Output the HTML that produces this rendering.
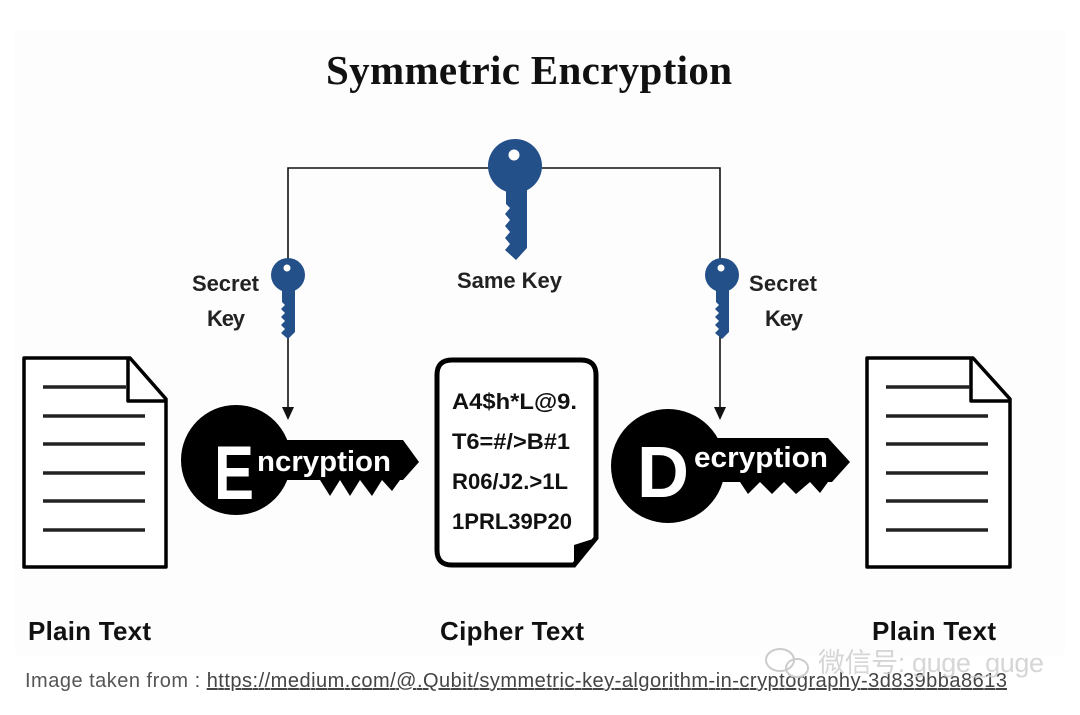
<!DOCTYPE html>
<html><head><meta charset="utf-8"><style>
html,body{margin:0;padding:0;background:#fff;}
body{width:1080px;height:715px;position:relative;overflow:hidden;}
</style></head><body>
<svg width="1080" height="715" viewBox="0 0 1080 715" xmlns="http://www.w3.org/2000/svg" style="position:absolute;left:0;top:0">
<rect x="15" y="30" width="1050" height="625" fill="#fdfdfd"/>
<text x="326" y="84" font-family="Liberation Serif, serif" font-weight="bold" font-size="41" fill="#111" textLength="406">Symmetric  Encryption</text>

<path d="M288 410 V168 H720 V410" fill="none" stroke="#111" stroke-width="1.6"/>
<polygon points="282,407 294,407 288,420" fill="#111"/>
<polygon points="714,407 726,407 720,420" fill="#111"/>

<g fill="#24508a">
<circle cx="515" cy="166" r="27"/>
<path d="M506 185 H527 V248 L516 260 L505 250 L510 244 L505 238 L510 232 L505 226 L510 220 L505 214 L510 208 L506 204 Z"/>
</g>
<circle cx="514" cy="155" r="5.5" fill="#fff"/>
<g fill="#24508a">
<circle cx="288" cy="275" r="17"/>
<path d="M282 287 H295 V332 L288 339 L281 333 L285 329 L281 325 L285 321 L281 317 L285 313 L281 309 L285 305 L282 302 Z"/>
<circle cx="722" cy="275" r="17"/>
<path d="M716 287 H729 V332 L722 339 L715 333 L719 329 L715 325 L719 321 L715 317 L719 313 L715 309 L719 305 L716 302 Z"/>
</g>
<circle cx="287" cy="268" r="3.5" fill="#fff"/>
<circle cx="721" cy="268" r="3.5" fill="#fff"/>

<g font-family="Liberation Sans, sans-serif" font-weight="bold" font-size="22" fill="#222">
<text x="192" y="291" textLength="67">Secret</text>
<text x="207" y="326" textLength="38">Key</text>
<text x="457" y="288" textLength="105">Same Key</text>
<text x="749" y="291" textLength="68">Secret</text>
<text x="765" y="326" textLength="38">Key</text>
</g>

<g fill="#000">
<circle cx="236" cy="460" r="55"/>
<path d="M270 440 H403 L419 462 L403 480 L400 480 L392 491 L382 480 L372 496 L360 480 L350 496 L340 480 L330 496 L320 480 H270 Z"/>
</g>
<text x="214" y="499" font-family="Liberation Sans, sans-serif" font-weight="bold" font-size="76" fill="#fff" textLength="40" lengthAdjust="spacingAndGlyphs">E</text>
<text x="257" y="471" font-family="Liberation Sans, sans-serif" font-weight="bold" font-size="29" fill="#fff" textLength="134" lengthAdjust="spacingAndGlyphs">ncryption</text>

<g fill="#000">
<circle cx="668" cy="466" r="57"/>
<path d="M700 438 H828 L850 462 L832 482 L828 482 L820 493 L810 482 L796 494 L784 482 L772 494 L760 482 L748 494 L740 482 H700 Z"/>
</g>
<text x="637" y="497" font-family="Liberation Sans, sans-serif" font-weight="bold" font-size="72" fill="#fff">D</text>
<text x="694" y="467" font-family="Liberation Sans, sans-serif" font-weight="bold" font-size="29" fill="#fff" textLength="134" lengthAdjust="spacingAndGlyphs">ecryption</text>

<path d="M452 360 H581 Q596 360 596 375 V538 L574 565 H452 Q437 565 437 550 V375 Q437 360 452 360 Z" fill="#fff" stroke="#000" stroke-width="5"/>
<polygon points="574,545 596,538 574,565" fill="#000"/>
<g font-family="Liberation Sans, sans-serif" font-weight="bold" font-size="22" fill="#111">
<text x="452" y="409" textLength="125" lengthAdjust="spacingAndGlyphs">A4$h*L@9.</text>
<text x="452" y="449" textLength="118" lengthAdjust="spacingAndGlyphs">T6=#/&gt;B#1</text>
<text x="452" y="489" textLength="116" lengthAdjust="spacingAndGlyphs">R06/J2.&gt;1L</text>
<text x="452" y="529" textLength="120" lengthAdjust="spacingAndGlyphs">1PRL39P20</text>
</g>

<g fill="#fff" stroke="#000" stroke-width="3.5" stroke-linejoin="round">
<path d="M24 358 H130 L166 399 V567 H24 Z"/>
<path d="M128 358 V401 H166" fill="none"/>
<path d="M867 358 H973 L1010 399 V567 H867 Z"/>
<path d="M971 358 V401 H1010" fill="none"/>
</g>
<g stroke="#222" stroke-width="3.5">
<line x1="43" y1="387" x2="126" y2="387"/>
<line x1="43" y1="416" x2="145" y2="416"/>
<line x1="43" y1="444" x2="145" y2="444"/>
<line x1="43" y1="473" x2="145" y2="473"/>
<line x1="43" y1="501" x2="145" y2="501"/>
<line x1="43" y1="530" x2="145" y2="530"/>
<line x1="886" y1="387" x2="970" y2="387"/>
<line x1="886" y1="416" x2="988" y2="416"/>
<line x1="886" y1="444" x2="988" y2="444"/>
<line x1="886" y1="473" x2="988" y2="473"/>
<line x1="886" y1="501" x2="988" y2="501"/>
<line x1="886" y1="530" x2="988" y2="530"/>
</g>

<g font-family="Liberation Sans, sans-serif" font-weight="bold" font-size="26" fill="#111">
<text x="28" y="640" textLength="123">Plain Text</text>
<text x="440" y="640" textLength="144">Cipher Text</text>
<text x="872" y="640" textLength="124">Plain Text</text>
</g>

<text x="25" y="687" font-family="Liberation Sans, sans-serif" font-size="20" fill="#555" textLength="982">Image taken from : <tspan text-decoration="underline" fill="#444">https://medium.com/@.Qubit/symmetric-key-algorithm-in-cryptography-3d839bba8613</tspan></text>
<text x="818" y="672" font-family="Liberation Sans, 'Noto Sans CJK SC', sans-serif" font-size="27" fill="#ccc" fill-opacity="0.8" textLength="226">微信号: guge_guge</text>
<g fill="none" stroke="#ccc" stroke-width="2"><ellipse cx="780" cy="660" rx="14" ry="11"/><ellipse cx="797" cy="668" rx="11" ry="9"/></g>
</svg>
</body></html>
